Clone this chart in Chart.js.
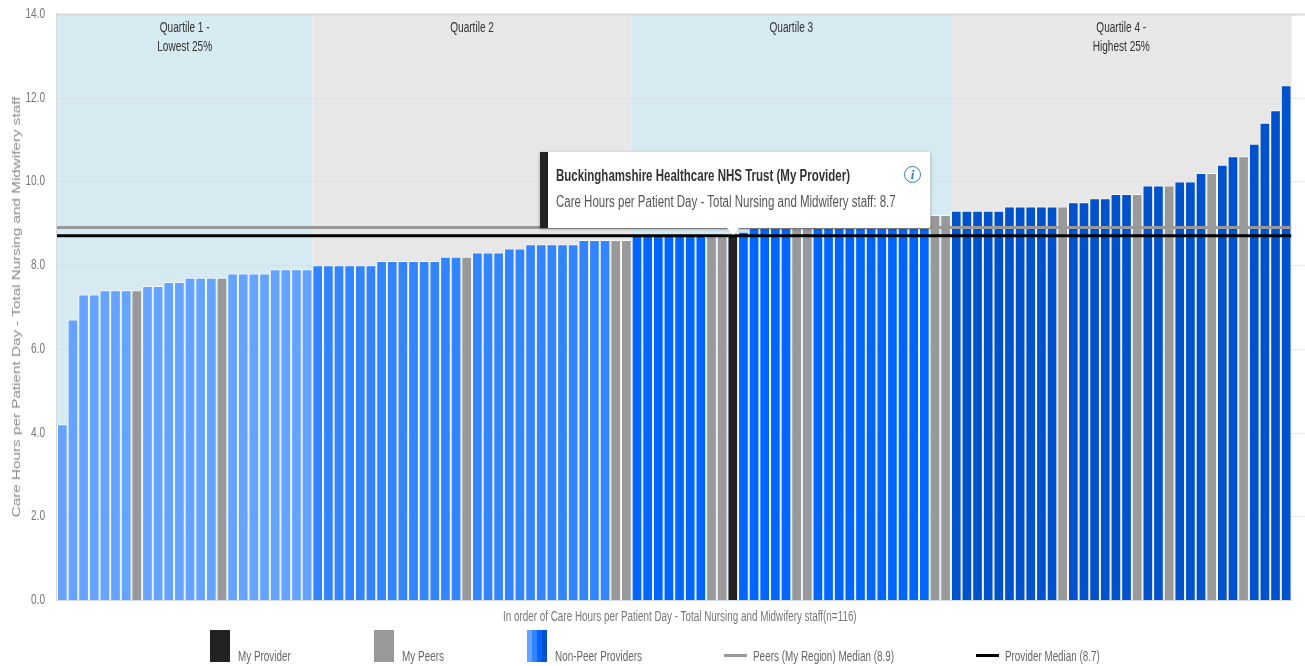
<!DOCTYPE html>
<html>
<head>
<meta charset="utf-8">
<title>Care Hours per Patient Day</title>
<script src="https://cdn.jsdelivr.net/npm/chart.js@4/dist/chart.umd.min.js"></script>
<style>
    html, body { margin: 0; padding: 0; background: #fff; overflow: hidden; }
    body { width: 1305px; height: 666px; position: relative; font-family: "Liberation Sans", sans-serif; }
    canvas { position: absolute; left: 0; top: 0; }
    .key { position: absolute; top: 630px; height: 32px; width: 20px; }
    .keyLine { position: absolute; top: 654px; height: 3px; width: 23px; }
    .fit { position: absolute; white-space: nowrap; transform-origin: left center; }
    .keyText { top: 648px; font-size: 14px; color: #666; }
    #xTitle { left: 503px; top: 608px; font-size: 14px; color: #777; }
    #yTitle { left: 16px; top: 307px; font-size: 11px; color: #888; transform-origin: center; }
    #tip { position: absolute; left: 540px; top: 152px; width: 382px; height: 76px; background: #fff; border-left: 8px solid #222; box-shadow: 0 1px 3px rgba(0,0,0,.35); }
    #tipTitle { left: 8px; top: 15px; font-size: 16px; font-weight: bold; color: #333; }
    #tipBody { left: 8px; top: 41px; font-size: 16px; color: #555; }
    #tipInfo { position: absolute; right: 9px; top: 14px; width: 12px; height: 15px; padding: 0 1.5px; border: 1.5px solid #2b7cd3; border-radius: 50%; text-align: center; color: #2b7cd3; font: italic bold 13px/15px "Liberation Serif", serif; }
    #tipArrow { position: absolute; width: 0; height: 0; border-left: 6px solid transparent; border-right: 6px solid transparent; border-top: 7px solid #fff; }
</style>
</head>
<body>
<canvas id="providers" width="1305" height="666"></canvas>

<div class="fit" id="xTitle" data-w="354">In order of Care Hours per Patient Day - Total Nursing and Midwifery staff(n=116)</div>
<div class="fit" id="yTitle">Care Hours per Patient Day - Total Nursing and Midwifery staff</div>

<div class="key" style="left:210px;background:#222"></div>
<div class="fit keyText" style="left:238px" data-w="53">My Provider</div>
<div class="key" style="left:374px;background:#999"></div>
<div class="fit keyText" style="left:402px" data-w="42">My Peers</div>
<div class="key" style="left:527px;background:linear-gradient(90deg,#66a3ff 0 25%,#3385ff 25% 50%,#0066ff 50% 75%,#0052cc 75%)"></div>
<div class="fit keyText" style="left:555px" data-w="87">Non-Peer Providers</div>
<div class="keyLine" style="left:724px;background:#999"></div>
<div class="fit keyText" style="left:753px" data-w="141">Peers (My Region) Median (8.9)</div>
<div class="keyLine" style="left:976px;background:#000"></div>
<div class="fit keyText" style="left:1005px" data-w="95">Provider Median (8.7)</div>

<div id="tip">
    <div class="fit" id="tipTitle" data-w="294">Buckinghamshire Healthcare NHS Trust (My Provider)</div>
    <div class="fit" id="tipBody" data-w="340">Care Hours per Patient Day - Total Nursing and Midwifery staff: 8.7</div>
    <div id="tipInfo">i</div>
</div>
<div id="tipArrow"></div>

<script>
const values = [
    4.2, 6.7, 7.3, 7.3, 7.4, 7.4, 7.4, 7.4, 7.5, 7.5, 7.6, 7.6, 7.7, 7.7, 7.7, 7.7, 7.8, 7.8, 7.8, 7.8, 7.9, 7.9, 7.9, 7.9,
    8.0, 8.0, 8.0, 8.0, 8.0, 8.0, 8.1, 8.1, 8.1, 8.1, 8.1, 8.1, 8.2, 8.2, 8.2, 8.3, 8.3, 8.3, 8.4, 8.4, 8.5, 8.5, 8.5, 8.5, 8.5, 8.6, 8.6, 8.6, 8.6, 8.6,
    8.7, 8.7, 8.7, 8.7, 8.7, 8.7, 8.7, 8.7, 8.7, 8.7, 8.8, 8.9, 8.9, 8.9, 8.9, 8.9, 8.9, 8.9, 8.9, 8.9, 9.0, 9.0, 9.0, 9.0, 9.0, 9.1, 9.1, 9.1, 9.2, 9.2,
    9.3, 9.3, 9.3, 9.3, 9.3, 9.4, 9.4, 9.4, 9.4, 9.4, 9.4, 9.5, 9.5, 9.6, 9.6, 9.7, 9.7, 9.7, 9.9, 9.9, 9.9, 10.0, 10.0, 10.2, 10.2, 10.4, 10.6, 10.6, 10.9, 11.4, 11.7, 12.3
];
const peers = [7, 15, 38, 52, 53, 61, 62, 69, 70, 82, 83, 94, 101, 104, 108, 111];
const myProvider = 63;
const quartileSizes = [24, 30, 30, 32];
const quartileColors = ['#66a3ff', '#3385ff', '#0066ff', '#0052cc'];
const quartileBands = ['#d6eaf2', '#e7e7e7', '#d6eaf2', '#e7e7e7'];
const quartileLabels = [['Quartile 1 -', 'Lowest 25%'], ['Quartile 2'], ['Quartile 3'], ['Quartile 4 -', 'Highest 25%']];
const peerMedian = 8.9;
const providerMedian = 8.7;
const yTicks = [0, 2, 4, 6, 8, 10, 12, 14];

// no narrow face is installed, so text gets squeezed to the wanted width
const squeeze = 0.72;

function barColor(i) {
    if (i === myProvider) return '#222';
    if (peers.includes(i)) return '#999';
    let end = 0;
    for (let q = 0; q < quartileSizes.length; q++) {
        end += quartileSizes[q];
        if (i < end) return quartileColors[q];
    }
}

function narrowText(ctx, text, x, y) {
    ctx.save();
    ctx.translate(x, y);
    ctx.scale(squeeze, 1);
    ctx.fillText(text, 0, 0);
    ctx.restore();
}

// quartile bands go under everything, the grid lines run out to the page edge
const backdrop = {
    id: 'backdrop',
    beforeDatasetsDraw(chart) {
        const { ctx, chartArea, scales } = chart;
        let start = 0;
        ctx.save();
        quartileSizes.forEach((size, q) => {
            const x0 = scales.xLine.getPixelForValue(start);
            const x1 = scales.xLine.getPixelForValue(start + size);
            ctx.fillStyle = quartileBands[q];
            ctx.fillRect(x0, chartArea.top, x1 - x0, chartArea.height);
            ctx.fillStyle = '#333';
            ctx.font = '14px "Liberation Sans", sans-serif';
            ctx.textAlign = 'center';
            ctx.textBaseline = 'middle';
            quartileLabels[q].forEach((line, n) => narrowText(ctx, line, (x0 + x1) / 2, 28 + n * 19));
            start += size;
        });
        yTicks.forEach(t => {
            const y = Math.round(scales.y.getPixelForValue(t));
            ctx.fillStyle = '#777';
            ctx.textAlign = 'right';
            narrowText(ctx, t.toFixed(1), 45, y + 0.5);
            if (t === 0) return;
            ctx.strokeStyle = t === 14 ? '#d9d9d9' : 'rgba(215,215,215,0.55)';
            ctx.lineWidth = t === 14 ? 2 : 1;
            ctx.beginPath();
            ctx.moveTo(chartArea.left, y + 0.5);
            ctx.lineTo(chart.width, y + 0.5);
            ctx.stroke();
        });
        ctx.restore();
    }
};

// pins the arrow of the info box to the provider's bar
const tipArrow = {
    id: 'tipArrow',
    afterRender(chart) {
        const arrow = document.getElementById('tipArrow');
        arrow.style.left = (chart.scales.xLine.getPixelForValue(myProvider + 0.5) - 6) + 'px';
        arrow.style.top = '228px';
    }
};

new Chart(document.getElementById('providers'), {
    type: 'bar',
    data: {
        labels: values.map((v, i) => i + 1),
        datasets: [
            {
                type: 'line',
                xAxisID: 'xLine',
                data: [{ x: 0, y: providerMedian }, { x: 116, y: providerMedian }],
                borderColor: '#000',
                borderWidth: 3,
                pointRadius: 0,
                order: 1
            },
            {
                type: 'line',
                xAxisID: 'xLine',
                data: [{ x: 0, y: peerMedian }, { x: 116, y: peerMedian }],
                borderColor: '#999',
                borderWidth: 3,
                pointRadius: 0,
                order: 2
            },
            {
                type: 'bar',
                xAxisID: 'x',
                grouped: false,
                data: values,
                backgroundColor: values.map((v, i) => barColor(i)),
                borderColor: 'rgba(255,255,255,0.7)',
                borderWidth: 1,
                inflateAmount: 0,
                categoryPercentage: 1,
                barPercentage: 1,
                order: 3
            }
        ]
    },
    plugins: [backdrop, tipArrow],
    options: {
        responsive: false,
        animation: false,
        layout: { padding: { top: 14, right: 13.5, left: 0, bottom: 0 } },
        plugins: { legend: { display: false }, tooltip: { enabled: false } },
        scales: {
            x: {
                grid: { display: false },
                border: { color: '#d3dbe6', width: 2 },
                ticks: { display: false },
                afterFit(scale) { scale.height = 66; }
            },
            xLine: { type: 'linear', display: false, offset: false, min: 0, max: 116 },
            y: {
                min: 0,
                max: 14,
                afterBuildTicks(scale) { scale.ticks = yTicks.map(value => ({ value })); },
                grid: { display: false },
                border: { color: '#d9d9d9', width: 2 },
                ticks: { display: false },
                afterFit(scale) { scale.width = 57; }
            }
        }
    }
});

document.querySelectorAll('.fit[data-w]').forEach(el => {
    el.style.transform = 'scaleX(' + (el.dataset.w / el.offsetWidth) + ')';
});
const yTitle = document.getElementById('yTitle');
yTitle.style.transform = 'translate(-50%, -50%) rotate(-90deg) scaleX(' + (420 / yTitle.offsetWidth) + ')';
</script>
</body>
</html>
